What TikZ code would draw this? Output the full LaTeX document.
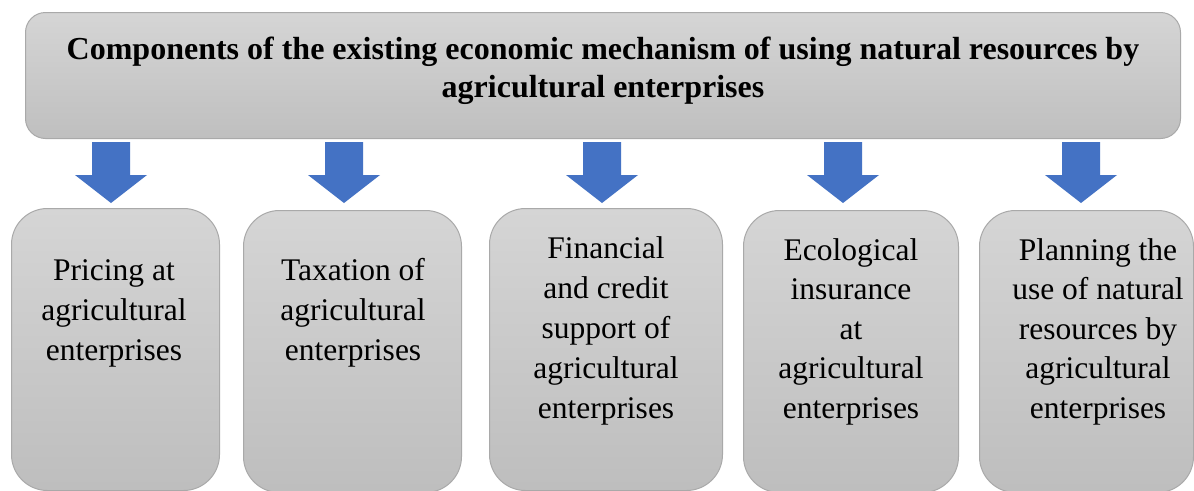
\documentclass[tikz,border=0pt]{standalone}
\usepackage{fontspec}
\setmainfont{Liberation Serif}
\definecolor{boxborder}{HTML}{A9A9A9}
\definecolor{boxtop}{HTML}{D5D5D5}
\definecolor{boxbot}{HTML}{BFBFBF}
\definecolor{arrowblue}{HTML}{4472C4}
\begin{document}
\begin{tikzpicture}[x=1pt,y=-1pt,
  topbox/.style={draw=boxborder, line width=1pt, rounded corners=20pt, top color=boxtop, bottom color=boxbot, inner sep=0pt, anchor=north west},
  botbox/.style={draw=boxborder, line width=1pt, rounded corners=36pt, top color=boxtop, bottom color=boxbot!102, inner sep=0pt, anchor=north west},
  titletext/.style={inner sep=0pt, anchor=north, align=center, font=\fontsize{32}{38}\selectfont\bfseries},
  boxtext/.style={inner sep=0pt, anchor=north, align=center, font=\fontsize{31.5}{40}\selectfont},
  blockarrow/.style={fill=arrowblue, draw=none}
]
\useasboundingbox (0,0) rectangle (1194,490);
\fill[white] (0,0) rectangle (1194,490);
% top box
\node[topbox, minimum width=1155pt, minimum height=126pt] (top) at (25,12) {};
\node[titletext] (toptext) at (603,59-25) {\rule{0pt}{25pt}Components of the existing economic mechanism of using natural resources by\\agricultural enterprises};
% bottom boxes
\node[botbox, minimum width=208pt, minimum height=282pt] (b1) at (11,208) {};
\node[botbox, minimum width=218pt, minimum height=282pt] (b2) at (243,210) {};
\node[botbox, minimum width=233pt, minimum height=282pt] (b3) at (489,208) {};
\node[botbox, minimum width=215pt, minimum height=282pt] (b4) at (743,210) {};
\node[botbox, minimum width=214pt, minimum height=282pt] (b5) at (979,210) {};
% texts
\node[boxtext] (t1) at (114,280-25) {\rule{0pt}{25pt}Pricing at\\agricultural\\enterprises};
\node[boxtext] (t2) at (353,280-25) {\rule{0pt}{25pt}Taxation of\\agricultural\\enterprises};
\node[boxtext] (t3) at (606,258-25) {\rule{0pt}{25pt}Financial\\and credit\\support of\\agricultural\\enterprises};
\node[boxtext, font=\fontsize{31.5}{39.5}\selectfont] (t4) at (851,260-25) {\rule{0pt}{25pt}Ecological\\insurance\\at\\agricultural\\enterprises};
\node[boxtext, font=\fontsize{31.5}{39.5}\selectfont] (t5) at (1098,260-25) {\rule{0pt}{25pt}Planning the\\use of natural\\resources by\\agricultural\\enterprises};
% block arrows
\foreach \x in {111,344,602,843,1081}{
  \fill[blockarrow] (\x-19,142) -- (\x+19,142) -- (\x+19,175) -- (\x+36,175) -- (\x,203) -- (\x-36,175) -- (\x-19,175) -- cycle;
}
\end{tikzpicture}
\end{document}
